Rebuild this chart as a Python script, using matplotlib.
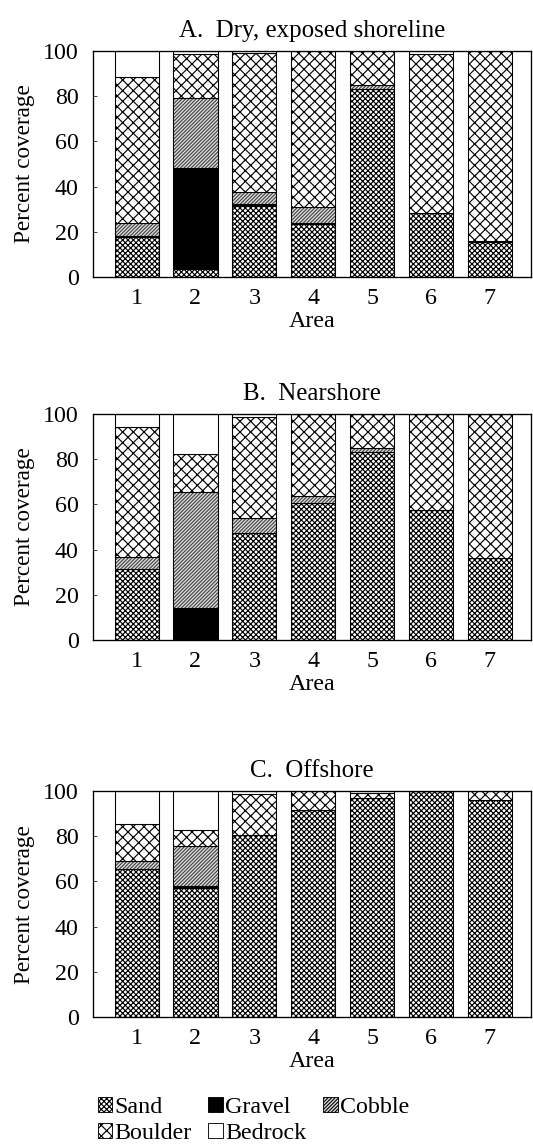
import matplotlib.pyplot as plt
from matplotlib.patches import Patch
import numpy as np

plt.rcParams['font.family'] = ['Liberation Serif', 'DejaVu Serif']
plt.rcParams['hatch.linewidth'] = 1.3

areas = ['1', '2', '3', '4', '5', '6', '7']
titles = ['A.  Dry, exposed shoreline', 'B.  Nearshore', 'C.  Offshore']

# percent coverage per substrate, one list per panel
sand = [
    [17.5, 3.6, 31.5, 23.5, 83.0, 28.4, 15.5],
    [31.3, 0.0, 47.2, 60.5, 83.3, 57.5, 36.1],
    [65.5, 57.0, 80.6, 91.6, 97.1, 100.0, 96.0],
]
gravel = [
    [0.5, 44.5, 0.6, 0.6, 0.0, 0.0, 0.4],
    [0.0, 14.0, 0.0, 0.0, 0.0, 0.0, 0.0],
    [0.0, 0.8, 0.0, 0.0, 0.0, 0.0, 0.0],
]
cobble = [
    [6.1, 31.2, 5.4, 7.0, 2.0, 0.0, 0.0],
    [5.6, 51.6, 6.6, 3.2, 1.5, 0.0, 0.0],
    [3.7, 18.0, 0.0, 0.0, 0.0, 0.0, 0.0],
]
boulder = [
    [64.5, 19.2, 61.5, 68.9, 15.0, 70.1, 84.1],
    [57.2, 16.6, 45.0, 36.3, 15.2, 42.5, 63.9],
    [16.1, 6.9, 17.9, 8.4, 2.2, 0.0, 4.0],
]
bedrock = [
    [11.4, 1.5, 1.0, 0.0, 0.0, 1.5, 0.0],
    [5.9, 17.8, 1.2, 0.0, 0.0, 0.0, 0.0],
    [14.7, 17.3, 1.5, 0.0, 0.7, 0.0, 0.0],
]

names = ['Sand', 'Gravel', 'Cobble', 'Boulder', 'Bedrock']
hatches = ['xxxx', '', '//////', 'xx', '']
faces = ['white', 'black', '#e0e0e0', 'white', 'white']
hatch_cols = ['black', 'black', '#404040', 'black', 'black']

fig = plt.figure(figsize=(533 / 64, 1147 / 64), dpi=64)
bottoms_fig = [0.7585, 0.442, 0.1133]
x = np.arange(1, 8)
w = 0.75

for p in range(3):
    ax = fig.add_axes([0.1745, bottoms_fig[p], 0.822, 0.197])
    layers = [sand[p], gravel[p], cobble[p], boulder[p], bedrock[p]]
    base = np.zeros(7)
    for k, vals in enumerate(layers):
        vals = np.array(vals)
        ax.bar(x, vals, w, bottom=base, color=faces[k], hatch=hatches[k],
               edgecolor=hatch_cols[k], linewidth=0)
        ax.bar(x, vals, w, bottom=base, fill=False, edgecolor='black', linewidth=1.2)
        base = base + vals
    ax.set_xlim(0.26, 7.70)
    ax.set_ylim(0, 100)
    ax.set_xticks(x)
    ax.set_xticklabels(areas)
    ax.set_yticks([0, 20, 40, 60, 80, 100])
    ax.tick_params(axis='y', direction='in', length=5, labelsize=27, pad=16)
    ax.tick_params(axis='x', length=0, labelsize=27, pad=12)
    ax.set_xlabel('Area', fontsize=27, labelpad=3)
    ax.set_ylabel('Percent coverage', fontsize=26, labelpad=9)
    ax.set_title(titles[p], fontsize=28, pad=16)
    for s in ax.spines.values():
        s.set_linewidth(1.5)

handles = [Patch(facecolor=faces[k], edgecolor='black', hatch=hatches[k], linewidth=1.0)
           for k in range(5)]
order = [0, 3, 1, 4, 2]
fig.legend([handles[i] for i in order], [names[i] for i in order],
           loc='lower left', bbox_to_anchor=(0.165, -0.006), ncol=3, frameon=False,
           fontsize=27, handlelength=0.6, handleheight=0.6, handletextpad=0.1,
           columnspacing=0.7, labelspacing=0.22, borderaxespad=0.0)

fig.savefig('out.png', dpi=64)
